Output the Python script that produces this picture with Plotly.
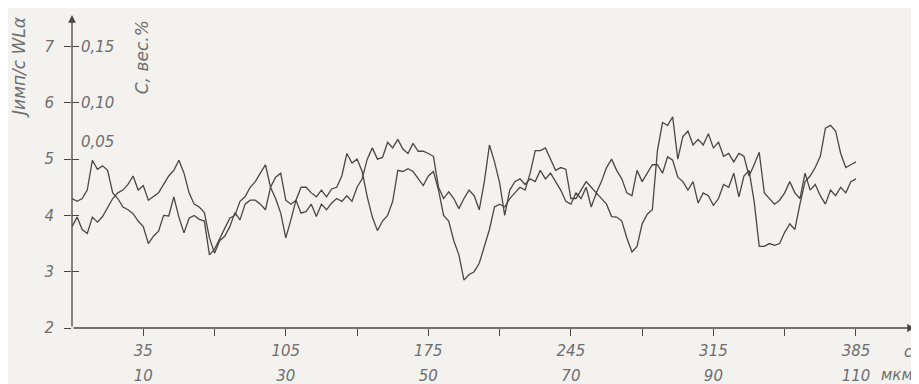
import numpy as np
import plotly.graph_objects as go

# sampling positions along the scan, seconds
step = 2.5
x_pos = np.arange(0, 385 + step / 2, step)

# intensity traces J (imp/s, WLα)
series_a = [
    4.30, 4.25, 4.30, 4.45, 4.98, 4.82, 4.88, 4.80, 4.40, 4.30,
    4.15, 4.10, 4.03, 3.90, 3.80, 3.50, 3.63, 3.72, 4.00, 3.99,
    4.33, 3.97, 3.69, 3.95, 4.00, 3.93, 3.90, 3.30, 3.40, 3.60,
    3.77, 3.95, 4.00, 4.25, 4.33, 4.50, 4.60, 4.75, 4.90, 4.50,
    4.30, 4.04, 3.60, 3.92, 4.27, 4.50, 4.50, 4.40, 4.33, 4.45,
    4.33, 4.47, 4.50, 4.70, 5.10, 4.93, 5.00, 4.78, 4.33, 3.97,
    3.73, 3.90, 4.00, 4.25, 4.80, 4.78, 4.83, 4.78, 4.66, 4.53,
    4.70, 4.78, 4.45, 4.00, 3.90, 3.55, 3.30, 2.85, 2.95, 3.00,
    3.15, 3.45, 3.75, 4.15, 4.20, 4.15, 4.30, 4.40, 4.50, 4.45,
    4.75, 5.15, 5.15, 5.20, 5.00, 4.80, 4.85, 4.82, 4.30, 4.30,
    4.45, 4.60, 4.50, 4.40, 4.60, 4.85, 5.00, 4.80, 4.65, 4.40,
    4.35, 4.80, 4.60, 4.75, 4.90, 4.90, 4.75, 5.04, 4.98, 4.68,
    4.60, 4.45, 4.60, 4.22, 4.40, 4.35, 4.18, 4.30, 4.55, 4.50,
    4.75, 4.33, 4.70, 4.80, 4.25, 3.45, 3.45, 3.50, 3.47, 3.50,
    3.70, 3.85, 3.75, 4.20, 4.60, 4.70, 4.85, 5.05, 5.55, 5.60,
    5.50, 5.10, 4.85, 4.90, 4.95,
]
series_b = [
    3.80, 3.97, 3.75, 3.68, 3.97, 3.88, 3.98, 4.15, 4.30, 4.40,
    4.45, 4.55, 4.70, 4.45, 4.53, 4.27, 4.33, 4.40, 4.55, 4.70,
    4.80, 4.98, 4.75, 4.40, 4.20, 4.15, 4.05, 3.60, 3.33, 3.55,
    3.63, 3.80, 4.05, 3.92, 4.20, 4.27, 4.27, 4.20, 4.10, 4.50,
    4.68, 4.75, 4.27, 4.20, 4.27, 4.04, 4.07, 4.20, 3.98, 4.20,
    4.10, 4.22, 4.30, 4.25, 4.35, 4.25, 4.50, 4.65, 5.00, 5.20,
    5.00, 5.03, 5.30, 5.20, 5.35, 5.18, 5.10, 5.28, 5.14, 5.14,
    5.10, 5.05, 4.50, 4.30, 4.42, 4.30, 4.12, 4.30, 4.45, 4.35,
    4.10, 4.60, 5.25, 4.95, 4.58, 4.00, 4.45, 4.60, 4.65, 4.55,
    4.65, 4.60, 4.80, 4.65, 4.75, 4.60, 4.45, 4.25, 4.20, 4.40,
    4.30, 4.50, 4.15, 4.40, 4.30, 4.20, 3.98, 3.97, 3.90, 3.60,
    3.35, 3.45, 3.85, 4.02, 4.10, 5.15, 5.65, 5.60, 5.75, 5.00,
    5.40, 5.50, 5.25, 5.35, 5.25, 5.45, 5.20, 5.30, 5.05, 5.10,
    4.95, 5.10, 5.05, 4.70, 4.90, 5.12, 4.40, 4.30, 4.20, 4.27,
    4.40, 4.60, 4.40, 4.30, 4.75, 4.45, 4.55, 4.35, 4.20, 4.45,
    4.35, 4.50, 4.40, 4.60, 4.65,
]

# axis labelling
y_ticks = [2, 3, 4, 5, 6, 7]
x_ticks = [35, 70, 105, 140, 175, 210, 245, 280, 315, 350, 385]
x_tick_sec = ["35", "", "105", "", "175", "", "245", "", "315", "", "385"]
x_tick_um = ["10", "", "30", "", "50", "", "70", "", "90", "", "110"]
conc_labels = ["0,15", "0,10", "0,05"]
conc_levels = [7, 6, 5.3]

INK = "#484848"
TXT = "#6e6e6e"
BG = "#f3f2ee"
FONT = dict(family="DejaVu Sans", size=15, color=TXT, style="italic")
TITLE_FONT = dict(family="DejaVu Sans", size=17, color=TXT, style="italic")

X_MAX = 414
Y_MIN, Y_MAX = 2, 7.56

fig = go.Figure()
for i, s in enumerate((series_a, series_b)):
    fig.add_trace(go.Scatter(x=x_pos, y=s, mode="lines",
                             line=dict(color=INK, width=1.3),
                             xaxis="x" if i == 0 else "x2",
                             yaxis="y" if i == 0 else "y2",
                             showlegend=False, hoverinfo="skip"))

fig.update_layout(
    width=911, height=376,
    margin=dict(l=64, r=4, t=7, b=56, autoexpand=False),
    paper_bgcolor=BG, plot_bgcolor=BG,
    font=FONT,
    xaxis=dict(range=[0, X_MAX], tickvals=x_ticks, ticktext=x_tick_sec,
               ticks="outside", ticklen=7, tickcolor=INK, tickwidth=1.2,
               showgrid=False, zeroline=False, showline=False,
               tickfont=FONT, ticklabelstandoff=2, automargin=False),
    xaxis2=dict(range=[0, X_MAX], overlaying="x", side="bottom",
                tickvals=x_ticks, ticktext=x_tick_um, ticks="",
                showgrid=False, zeroline=False, showline=False,
                tickfont=FONT, ticklabelstandoff=37, automargin=False),
    yaxis=dict(range=[Y_MIN, Y_MAX], tickvals=y_ticks,
               ticktext=[str(v) for v in y_ticks],
               ticks="outside", ticklen=7, tickcolor=INK, tickwidth=1.2,
               showgrid=False, zeroline=False, showline=False,
               tickfont=FONT, ticklabelstandoff=7, automargin=False),
    yaxis2=dict(range=[Y_MIN, Y_MAX], overlaying="y", side="left",
                tickvals=y_ticks[1:], ticks="inside", ticklen=7,
                tickcolor=INK, tickwidth=1.2, showticklabels=False,
                showgrid=False, zeroline=False, showline=False,
                automargin=False),
)

# axis arrows
fig.add_annotation(x=X_MAX, y=Y_MIN, ax=0, ay=Y_MIN, xref="x", yref="y",
                   axref="x", ayref="y", showarrow=True, arrowhead=2,
                   arrowsize=1.2, arrowwidth=1.3, arrowcolor=INK, text="")
fig.add_annotation(x=0, y=Y_MAX, ax=0, ay=Y_MIN, xref="x", yref="y",
                   axref="x", ayref="y", showarrow=True, arrowhead=2,
                   arrowsize=1.2, arrowwidth=1.3, arrowcolor=INK, text="")

# concentration scale labels
for t, v in zip(conc_labels, conc_levels):
    fig.add_annotation(x=0, y=v, xref="x", yref="y", text=t, showarrow=False,
                       xanchor="left", xshift=7, font=FONT)

# axis titles
fig.add_annotation(x=0, y=6.62, xref="x", yref="y", xshift=-53,
                   text="Jимп/с WLα",
                   textangle=-90, showarrow=False, font=TITLE_FONT)
fig.add_annotation(x=34.4, y=6.81, xref="x", yref="y",
                   text="C, вес.%", textangle=-90, showarrow=False, font=TITLE_FONT)
fig.add_annotation(x=X_MAX, y=Y_MIN, xref="x", yref="y", text="c",
                   showarrow=False, xanchor="right", yanchor="middle",
                   yshift=-24, font=FONT)
fig.add_annotation(x=X_MAX, y=Y_MIN, xref="x", yref="y", text="мкм",
                   showarrow=False, xanchor="right", yanchor="middle",
                   yshift=-47, font=FONT)

fig.write_html("out.html")
